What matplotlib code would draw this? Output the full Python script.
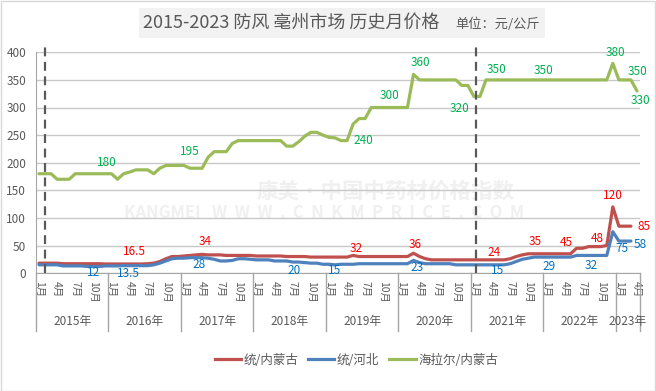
import numpy as np
import matplotlib
matplotlib.use("Agg")
import matplotlib.pyplot as plt
from matplotlib.patches import Rectangle
from matplotlib.lines import Line2D
import matplotlib.transforms as mtransforms

plt.rcParams['font.family'] = ['Noto Sans CJK SC', 'DejaVu Sans']

# ---- datos (2015-01 .. 2023-04, precio mensual) ----
years = [2015, 2016, 2017, 2018, 2019, 2020, 2021, 2022, 2023]
months_per_year = [12, 12, 12, 12, 12, 12, 12, 12, 4]
series_names = ["统/内蒙古", "统/河北", "海拉尔/内蒙古"]

red = [18, 18, 18, 18, 17, 17, 17, 17, 17, 17, 17, 16.5,
       16.5, 16.5, 16.5, 16.5, 16.5, 16.5, 17, 18, 21, 26, 30, 30,
       31, 32, 33, 34, 33, 33, 33, 32, 32, 32, 32, 32,
       31, 31, 31, 31, 31, 30, 30, 30, 30, 29, 29, 29,
       29, 29, 29, 29, 32, 30, 30, 30, 30, 30, 30, 30,
       30, 30, 36, 30, 26, 24, 24, 24, 24, 24, 24, 24,
       24, 24, 24, 24, 24, 24, 26, 30, 33, 35, 35, 35,
       35, 35, 35, 35, 35, 45, 45, 48, 48, 48, 50, 120,
       85, 85, 85]

blue = [15, 15, 15, 15, 13, 13, 13, 13, 12, 12, 12, 13,
        13, 13, 13.5, 13.5, 13.5, 13.5, 13.5, 15, 18, 22, 26, 27,
        27, 28, 28, 28, 27, 25, 22, 22, 23, 26, 26, 25,
        24, 24, 24, 22, 22, 22, 20, 20, 19, 18, 18, 16,
        16, 15, 16, 16, 16, 17, 17, 17, 17, 17, 17, 17,
        17, 17, 23, 19, 17, 17, 17, 17, 17, 15, 15, 15,
        15, 15, 15, 15, 15, 15, 17, 21, 25, 27, 29, 29,
        29, 29, 29, 29, 29, 32, 32, 32, 32, 32, 32, 75,
        58, 58, 58]

green = [180, 180, 180, 170, 170, 170, 180, 180, 180, 180, 180, 180,
         180, 170, 180, 183, 187, 187, 187, 180, 190, 195, 195, 195,
         195, 190, 190, 190, 210, 220, 220, 220, 235, 240, 240, 240,
         240, 240, 240, 240, 240, 230, 230, 238, 248, 255, 255, 250,
         246, 245, 240, 240, 270, 280, 280, 300, 300, 300, 300, 300,
         300, 300, 360, 350, 350, 350, 350, 350, 350, 350, 340, 340,
         320, 320, 350, 350, 350, 350, 350, 350, 350, 350, 350, 350,
         350, 350, 350, 350, 350, 350, 350, 350, 350, 350, 350, 380,
         350, 350, 350, 330]

# etiquetas: (indice del mes, dx pt, dy pt)
red_labels = [(16, -1, 9), (27, 2, 9), (52, 2, 5), (62, 1.5, 6.5), (75, 1.5, 5),
              (82, 1, 8.5), (89, -7.5, 4), (92, 1.7, 6), (95, -0.3, 8.4), (98, 9.6, 0)]
blue_labels = [(9, 0.4, -4.6), (15, -1.2, -5.8), (26, 2, -5.2), (42, 1, -6.2),
               (49, 0, -4), (62, 2.3, -5.2), (76, 0, -4), (84, 2, -6.8),
               (91, 1.7, -7.5), (95, 6.6, -12.2), (98, 6.4, -2.2)]
green_labels = [(11, 1.2, 8.3), (24, 4.3, 10), (51, 11.5, 0), (58, 0, 8.4),
                (62, 4.7, 8.6), (72, -10, -8.6), (76, -1.4, 7.2), (84, -1.7, 6.5),
                (95, 1.6, 7.8), (98, 5, 6), (99, 2.2, -6.8)]

split_months = [1, 72.3]

line_colors = ["#C0504D", "#4F81BD", "#9BBB59"]
label_colors = ["#FF0000", "#0070C0", "#00B050"]
txt_gray = "#595959"

fig = plt.figure(figsize=(6.56, 3.91), dpi=100)
ax = fig.add_axes([36 / 656, 1 - 273.1 / 391, 604 / 656, 220.8 / 391])
ax.set_facecolor("none")

# marco exterior
fig.patches.append(Rectangle((0.001, 0.001), 0.997, 0.997, transform=fig.transFigure,
                             fill=False, edgecolor="#D9D9D9", lw=1))
# titulo
fig.patches.append(Rectangle((139 / 656, 1 - 38 / 391), 406 / 656, 30 / 391,
                             transform=fig.transFigure, facecolor="#F2F2F2",
                             edgecolor="none", zorder=0))
fig.text(143 / 656, 1 - 23 / 391, "2015-2023 防风 亳州市场 历史月价格", fontsize=13,
         color=txt_gray, ha="left", va="center")
fig.text(455 / 656, 1 - 24 / 391, "单位：元/公斤", fontsize=9.5, color=txt_gray,
         ha="left", va="center")

# marca de agua
ax.text(0.579, 0.37, "康美·中国中药材价格指数", transform=ax.transAxes, fontsize=15.5,
        fontweight="bold", color="#F0F0F0", ha="center", va="center", zorder=0)
ax.text(0.477, 0.27, "KANGMEI   W  W  W  .  C  N  K  M  P  R  I  C  E  .  C  O  M",
        transform=ax.transAxes, fontsize=12, fontweight="bold", color="#F0F0F0",
        ha="center", va="center", zorder=0)

n_months = sum(months_per_year)
x_all = np.arange(n_months)

for vals, col in zip([red, blue, green], line_colors):
    ax.plot(x_all[:len(vals)], vals, color=col, lw=2.3, solid_joinstyle="round",
            solid_capstyle="round", zorder=3)

for vals, labels, col in zip([red, blue, green], [red_labels, blue_labels, green_labels],
                             label_colors):
    for idx, dx, dy in labels:
        ax.annotate(f"{vals[idx]:g}", (idx, vals[idx]), xytext=(dx, dy),
                    textcoords="offset points", ha="center", va="center",
                    fontsize=8.5, color=col, zorder=5)

for sx in split_months:
    ax.plot([sx, sx], [0, 413], color="#595959", lw=1.6, ls=(0, (4, 2.5)),
            clip_on=False, zorder=4)

ax.set_xlim(-0.5, n_months - 0.5)
ax.set_ylim(0, 400)
ax.set_yticks(range(0, 401, 50))
ax.yaxis.grid(True, color="#C8C8C8", lw=1)
ax.set_axisbelow(True)
ax.tick_params(axis="y", length=0, pad=7, labelsize=8.5, labelcolor=txt_gray)

ticks = [i for i in range(n_months) if i % 3 == 0]
ax.set_xticks(ticks)
ax.set_xticklabels([f"{i % 12 + 1}月" for i in ticks], rotation=-90, fontsize=7.5,
                   color=txt_gray)
ax.tick_params(axis="x", length=0, pad=6)

for s in ["top", "right"]:
    ax.spines[s].set_visible(False)
for s in ["left", "bottom"]:
    ax.spines[s].set_color("#A6A6A6")

trans = mtransforms.blended_transform_factory(ax.transData, ax.transAxes)
start = 0
bounds = [-0.5]
for yr, nm in zip(years, months_per_year):
    ax.text(start + (nm - 1) / 2, -0.22, f"{yr}年", transform=trans, ha="center",
            va="center", fontsize=8.5, color=txt_gray)
    start += nm
    bounds.append(start - 0.5)
for b in bounds:
    ax.plot([b, b], [0, -0.26], transform=trans, color="#A6A6A6", lw=1, clip_on=False)

handles = [Line2D([0], [0], color=c, lw=2.3) for c in line_colors]
fig.legend(handles, series_names, loc="center", bbox_to_anchor=(0.543, 0.079), ncol=3,
           frameon=False, fontsize=9, handlelength=2.1, handletextpad=0.2,
           columnspacing=0.8, labelcolor=txt_gray)

fig.savefig("out.png", dpi=100)
